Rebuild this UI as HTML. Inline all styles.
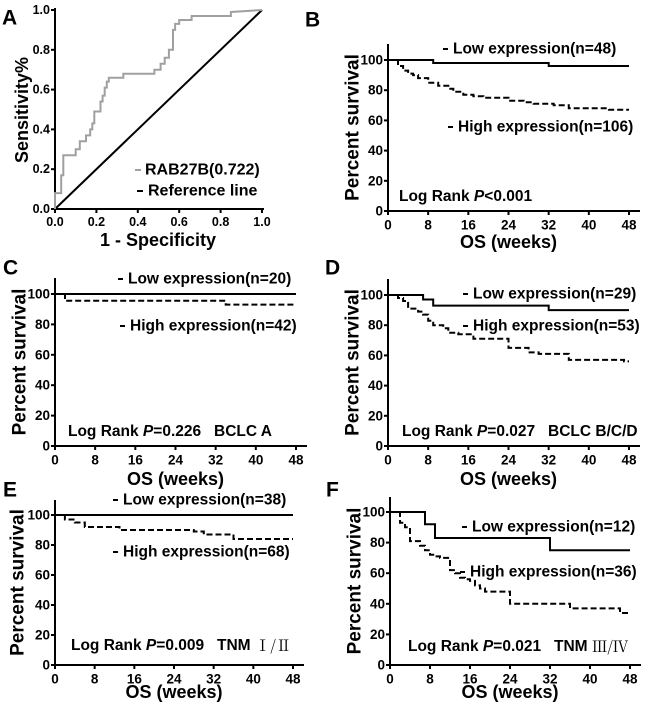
<!DOCTYPE html>
<html><head><meta charset="utf-8"><style>
html,body{margin:0;padding:0;background:#fff}
svg{display:block;font-family:"Liberation Sans",Arial,sans-serif}
</style></head><body>
<svg id="fig" width="650" height="714" viewBox="0 0 650 714" xmlns="http://www.w3.org/2000/svg"></svg>
<script>
// ROC data (panel A)
const rocX=[0,0,0.03,0.03,0.04,0.04,0.1,0.1,0.12,0.12,0.15,0.15,0.17,0.17,0.18,0.18,0.19,0.19,0.22,0.22,0.23,0.23,0.24,0.24,0.25,0.25,0.26,0.26,0.33,0.33,0.48,0.48,0.51,0.51,0.53,0.53,0.55,0.55,0.57,0.57,0.58,0.58,0.6,0.6,0.66,0.66,0.85,0.85,1];
const rocY=[0,0.08,0.08,0.17,0.17,0.27,0.27,0.3,0.3,0.34,0.34,0.37,0.37,0.4,0.4,0.43,0.43,0.49,0.49,0.54,0.54,0.57,0.57,0.61,0.61,0.64,0.64,0.66,0.66,0.68,0.68,0.7,0.7,0.73,0.73,0.76,0.76,0.8,0.8,0.9,0.9,0.93,0.93,0.95,0.95,0.97,0.97,0.99,1];
const rocTicks=["0.0","0.2","0.4","0.6","0.8","1.0"];
// KM tick labels
const kmXTicks=[0,8,16,24,32,40,48];
const kmYTicks=[0,20,40,60,80,100];
// KM series: step times and survival %
const bLowT=[0,9,32,48], bLowS=[100,98,96,96];
const bHighT=[0,2,3,4,5,6,8,10,12,13,15,17,19,24,27,29,33,36,44,48];
const bHighS=[100,96,93,91,90,88,85,83,81,79,77,76,75,73,72,71,70,68,67,67];
const cLowT=[0,48], cLowS=[100,100];
const cHighT=[0,2,34,48], cHighS=[100,95.5,93,93];
const dLowT=[0,7,9,32,48], dLowS=[100,97,93,90,90];
const dHighT=[0,2,3,4,6,7,8,9,11,12,14,17,24,28,30,36,47,48];
const dHighS=[100,98,96,91,89,87,83,80,78,75,74,71,65,62,61,57,56,56];
const eLowT=[0,48], eLowS=[100,100];
const eHighT=[0,2,4,6,13,28,30,36,48], eHighS=[100,97,95,92,90,89,87,84,84];
const fLowT=[0,7,9,32,48], fLowS=[100,92,83,75,75];
const fHighT=[0,2,3,4,6,7,8,9,10,12,13,14,15,16,17,18,19,24,36,46,48];
const fHighS=[100,93,90,81,78,75,72,71,70,62,60,57,56,55,52,50,48,40,37,34,34];

const NS="http://www.w3.org/2000/svg";
const svg=document.getElementById('fig');
function mk(tag,attrs,parent){const e=document.createElementNS(NS,tag);for(const k in attrs)e.setAttribute(k,attrs[k]);(parent||svg).appendChild(e);return e;}
function txt(s,x,y,size,anchor,parent,extra){const t=mk('text',Object.assign({x:x,y:y,'font-size':size,'font-weight':'bold','text-anchor':anchor||'start','dominant-baseline':'central',fill:'#000'},extra||{}),parent);t.textContent=s;return t;}
const SP='\u00a0\u00a0\u00a0';

// Panel A
(function(){
  const g=mk('g',{});
  
  
  const x0=55,x1=262,y0=209,y1=10;
  const sx=v=>x0+(x1-x0)*v, sy=v=>y0-(y0-y1)*v;
  const ax=mk('path',{d:`M${x0} ${y1-2}V${y0}H${x1+2}`,stroke:'#000','stroke-width':2,fill:'none'},g);
  
  rocTicks.forEach((lab,i)=>{const v=i/5;
    mk('line',{x1:x0-4,x2:x0,y1:sy(v),y2:sy(v),stroke:'#000','stroke-width':2},g);
    const t=txt(lab,x0-5,sy(v),12.5,'end',g);
    mk('line',{x1:sx(v),x2:sx(v),y1:y0,y2:y0+4,stroke:'#000','stroke-width':2},g);
    const t2=txt(lab,sx(v),y0+13,12.5,'middle',g);
  });
  const ref=mk('line',{x1:sx(0),y1:sy(0),x2:sx(1),y2:sy(1),stroke:'#000','stroke-width':2},g);
  
  const d=rocX.map((x,i)=>(i?'L':'M')+sx(x).toFixed(1)+' '+sy(rocY[i]).toFixed(1)).join('');
  const roc=mk('path',{d:d,stroke:'#a0a0a0','stroke-width':2,fill:'none'},g);
  
  const yt=txt('Sensitivity%',22,110,18,'middle',g,{transform:'rotate(-90 22 110)'});
  
  const xt=txt('1 - Specificity',158,240,18,'middle',g);
  
  mk('line',{x1:135,x2:141,y1:170,y2:170,stroke:'#a0a0a0','stroke-width':2},g);
  const l1=txt('RAB27B(0.722)',145,170,16,'start',g);
  mk('line',{x1:137,x2:143,y1:191,y2:191,stroke:'#000','stroke-width':2},g);
  const l2=txt('Reference line',148,191,16,'start',g);
  const lt=txt('A',2,18,21,'start',g);
})();

function kmPanel(cfg){
  const g=mk('g',{});
  
  
  const sx=v=>cfg.x0+(cfg.x48-cfg.x0)*v/48, sy=v=>cfg.y0-(cfg.y0-cfg.y100)*v/100;
  const ax=mk('path',{d:`M${cfg.x0} ${cfg.top}V${cfg.y0}H${cfg.x48+11}`,stroke:'#000','stroke-width':2,fill:'none'},g);
  
  kmYTicks.forEach(v=>{mk('line',{x1:cfg.x0-4,x2:cfg.x0,y1:sy(v),y2:sy(v),stroke:'#000','stroke-width':2},g);
    const t=txt(String(v),cfg.x0-5,sy(v),13.5,'end',g);});
  kmXTicks.forEach(v=>{mk('line',{x1:sx(v),x2:sx(v),y1:cfg.y0,y2:cfg.y0+4,stroke:'#000','stroke-width':2},g);
    const t=txt(String(v),sx(v),cfg.y0+14,13.5,'middle',g);});
  function step(T,S,dash,name){let d='M'+sx(T[0])+' '+sy(S[0]);
    for(let i=1;i<T.length;i++){d+='H'+sx(T[i]).toFixed(1)+'V'+sy(S[i]).toFixed(1);}
    const p=mk('path',{d:d,stroke:'#000','stroke-width':2,fill:'none'},g);
    if(dash)p.setAttribute('stroke-dasharray','6,3');
    }
  step(cfg.lowT,cfg.lowS,false,'low-expression-curve');
  step(cfg.highT,cfg.highS,true,'high-expression-curve');
  const ym=(cfg.top+cfg.y0)/2;
  const yt=txt('Percent survival',cfg.ytx,ym,19,'middle',g,{transform:`rotate(-90 ${cfg.ytx} ${ym})`});
  
  if(cfg.xtitleY){const xt=txt('OS (weeks)',(cfg.x0+cfg.x48)/2,cfg.xtitleY,18,'middle',g);}
  mk('line',{x1:cfg.lowX-10,x2:cfg.lowX-5,y1:cfg.lowY,y2:cfg.lowY,stroke:'#000','stroke-width':2},g);
  const l1=txt(cfg.lowLab,cfg.lowX,cfg.lowY,15.5,'start',g);
  mk('line',{x1:cfg.highX-10,x2:cfg.highX-5,y1:cfg.highY,y2:cfg.highY,stroke:'#000','stroke-width':2},g);
  const l2=txt(cfg.highLab,cfg.highX,cfg.highY,15.5,'start',g);
  const lr=mk('text',{x:cfg.lrX,y:cfg.lrY,'font-size':15.5,'font-weight':'bold','dominant-baseline':'central'},g);
  
  const a=mk('tspan',{},lr);a.textContent='Log Rank ';
  const b=mk('tspan',{'font-style':'italic'},lr);b.textContent='P';
  const c=mk('tspan',{},lr);c.textContent=cfg.pTxt;
  if(cfg.roman){const r=mk('tspan',{'font-family':'"Noto Serif CJK SC",serif','font-weight':'normal'},lr);r.textContent=cfg.roman;}
  const lt=txt(cfg.id.toUpperCase(),cfg.lx,cfg.ly,21,'start',g);
}
kmPanel({id:'b',x0:388,y0:211,y100:60,x48:629,top:44,ytx:353,xtitleY:242,lowT:bLowT,lowS:bLowS,highT:bHighT,highS:bHighS,
  lowLab:'Low expression(n=48)',lowX:453,lowY:49,highLab:'High expression(n=106)',highX:458,highY:127,lrX:399,lrY:196,pTxt:'<0.001',lx:305,ly:20});
kmPanel({id:'c',x0:55,y0:446,y100:294,x48:296,top:278,ytx:20,xtitleY:479,lowT:cLowT,lowS:cLowS,highT:cHighT,highS:cHighS,
  lowLab:'Low expression(n=20)',lowX:128,lowY:279,highLab:'High expression(n=42)',highX:130,highY:326,lrX:68,lrY:431,pTxt:'=0.226'+SP+'BCLC A',lx:3,ly:268});
kmPanel({id:'d',x0:388,y0:446,y100:295,x48:629,top:279,ytx:353,xtitleY:479,lowT:dLowT,lowS:dLowS,highT:dHighT,highS:dHighS,
  lowLab:'Low expression(n=29)',lowX:473,lowY:294,highLab:'High expression(n=53)',highX:473,highY:326,lrX:402,lrY:431,pTxt:'=0.027'+SP+'BCLC B/C/D',lx:325,ly:268});
kmPanel({id:'e',x0:55,y0:665,y100:515,x48:293,top:500,ytx:18,xtitleY:692,lowT:eLowT,lowS:eLowS,highT:eHighT,highS:eHighS,
  lowLab:'Low expression(n=38)',lowX:123,lowY:500,highLab:'High expression(n=68)',highX:123,highY:552,lrX:71,lrY:645,pTxt:'=0.009'+SP+'TNM ',roman:'Ⅰ/Ⅱ',lx:3,ly:490});
kmPanel({id:'f',x0:390,y0:665,y100:512,x48:630,top:497,ytx:355,xtitleY:692,lowT:fLowT,lowS:fLowS,highT:fHighT,highS:fHighS,
  lowLab:'Low expression(n=12)',lowX:472,lowY:527,highLab:'High expression(n=36)',highX:470,highY:572,lrX:408,lrY:646,pTxt:'=0.021'+SP+'TNM ',roman:'Ⅲ/Ⅳ',lx:326,ly:490});
</script>
</body></html>
